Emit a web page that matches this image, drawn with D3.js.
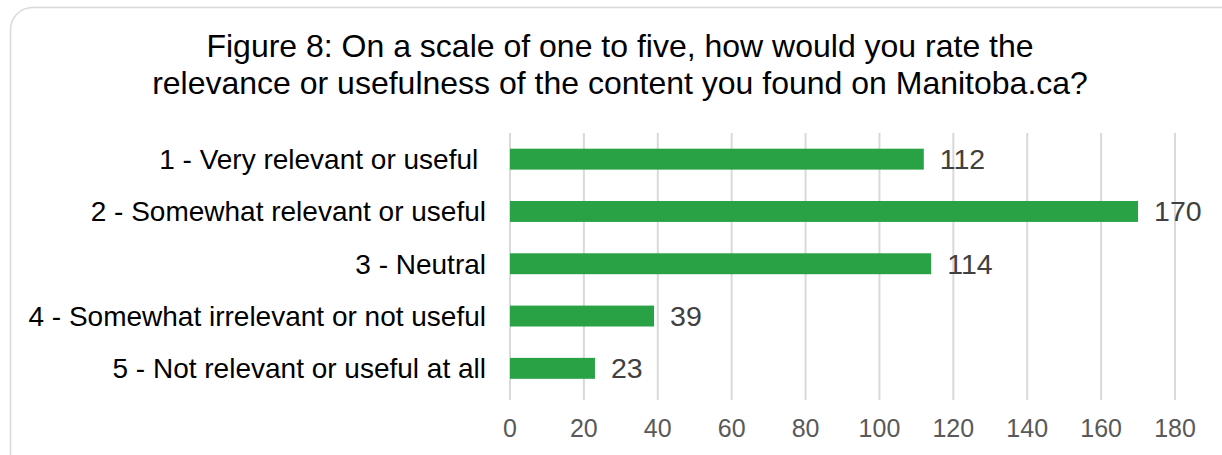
<!DOCTYPE html>
<html><head><meta charset="utf-8">
<script src="https://cdn.jsdelivr.net/npm/d3@7"></script>
<style>html,body{margin:0;padding:0;background:#fff;}svg{display:block;font-family:"Liberation Sans",Arial,sans-serif;}</style>
</head><body>
<svg id="c" width="1222" height="455"></svg>
<script>
const categories = ["1 - Very relevant or useful ", "2 - Somewhat relevant or useful", "3 - Neutral", "4 - Somewhat irrelevant or not useful", "5 - Not relevant or useful at all"];
const values = [112, 170, 114, 39, 23];
const ticks = [0, 20, 40, 60, 80, 100, 120, 140, 160, 180];
const titleLines = ["Figure 8: On a scale of one to five, how would you rate the", "relevance or usefulness of the content you found on Manitoba.ca?"];

const svg = d3.select("#c");
svg.append("rect").attr("x", 10.5).attr("y", 7.5).attr("width", 1240).attr("height", 470)
  .attr("rx", 22).attr("fill", "#fff").attr("stroke", "#d9d9d9").attr("stroke-width", 1.5);

svg.append("g").selectAll("text").data(titleLines).join("text")
  .attr("x", 620).attr("y", (d, i) => 57 + i * 36.5).attr("text-anchor", "middle")
  .attr("font-size", 32).attr("fill", "#000").text(d => d);

const x = d3.scaleLinear().domain([0, 180]).range([510, 1175]);
const y = d3.scaleBand().domain(categories).range([133, 394.5]).paddingInner(0.6).paddingOuter(0.3);

svg.append("g").selectAll("line").data(ticks).join("line")
  .attr("x1", d => x(d)).attr("x2", d => x(d)).attr("y1", 133).attr("y2", 400)
  .attr("stroke", "#d9d9d9").attr("stroke-width", 2);

svg.append("g").selectAll("text").data(ticks).join("text")
  .attr("x", d => x(d)).attr("y", 437).attr("text-anchor", "middle")
  .attr("font-size", 25).attr("fill", "#595959").text(d => d);

svg.append("g").selectAll("rect").data(values).join("rect")
  .attr("x", x(0)).attr("y", (d, i) => y(categories[i]))
  .attr("width", d => x(d) - x(0)).attr("height", y.bandwidth())
  .attr("fill", "#28a245");

svg.append("g").selectAll("text").data(values).join("text")
  .attr("x", d => x(d) + 16).attr("y", (d, i) => y(categories[i]) + y.bandwidth() / 2 + 10)
  .attr("font-size", 28.5).attr("fill", "#404040").text(d => d);

svg.append("g").selectAll("text").data(categories).join("text")
  .attr("x", 486).attr("y", d => y(d) + y.bandwidth() / 2 + 10)
  .attr("text-anchor", "end").attr("xml:space", "preserve").style("white-space", "pre")
  .attr("font-size", 28).attr("fill", "#000").text(d => d);
</script>
</body></html>
